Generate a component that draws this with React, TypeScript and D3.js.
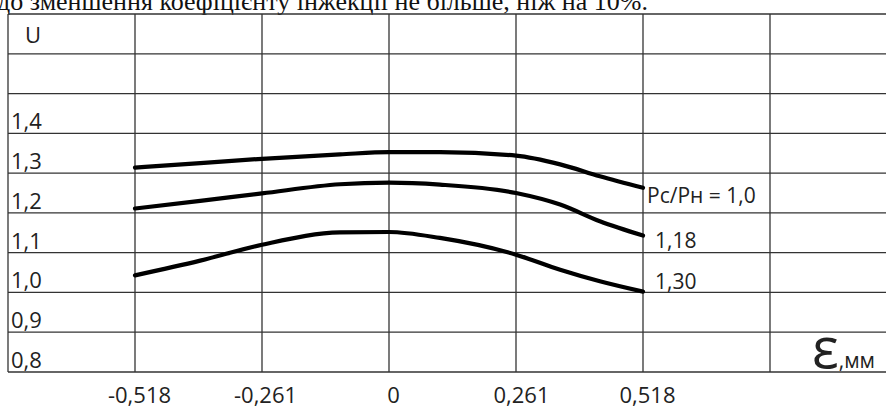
import React, { useEffect, useRef } from "react";
import * as d3 from "d3";

// eccentricity, mm
const eps = [-0.518, -0.385, -0.259, -0.1, 0, 0.104, 0.259, 0.349, 0.43, 0.518];
// injection coefficient U for each pressure ratio
const u10 = [1.314, 1.325, 1.336, 1.347, 1.353, 1.353, 1.344, 1.322, 1.292, 1.263];
const u118 = [1.211, 1.23, 1.249, 1.272, 1.276, 1.271, 1.25, 1.221, 1.179, 1.143];
const u130 = [1.043, 1.08, 1.12, 1.151, 1.152, 1.137, 1.095, 1.057, 1.028, 1.002];

const seriesNames = ["Рс/Рн = 1,0", "1,18", "1,30"];
const yTicks = [0.8, 0.9, 1.0, 1.1, 1.2, 1.3, 1.4];
const yTickLabels = ["0,8", "0,9", "1,0", "1,1", "1,2", "1,3", "1,4"];
const xTicks = [-0.518, -0.261, 0, 0.261, 0.518];
const xTickLabels = ["-0,518", "-0,261", "0", "0,261", "0,518"];
const topLine = "до зменшення коефіцієнту інжекції не більше, ніж на 10%.";

export default function App() {
  const svgRef = useRef<SVGSVGElement>(null);

  useEffect(() => {
    const width = 886;
    const height = 410;
    const svg = d3.select(svgRef.current);
    svg.selectAll("*").remove();
    svg.attr("width", width).attr("height", height);

    const x = d3.scaleLinear().domain([-0.518, 0.518]).range([135, 643]);
    const y = d3.scaleLinear().domain([0.8, 1.7]).range([372, 14]);
    const font = "'Open Sans', sans-serif";

    // paragraph text above the figure (cut by the crop)
    svg.append("text")
      .attr("x", -3)
      .attr("y", 10)
      .style("font-family", "'Liberation Serif', serif")
      .style("font-size", "26px")
      .attr("fill", "#111")
      .text(topLine);

    // table grid
    const grid = svg.append("g").attr("stroke", "#333").attr("stroke-width", 1.3);
    const step = 0.259;
    const xLines = d3.range(-3, 4).map(i => i * step);
    grid.selectAll(".vl")
      .data(xLines)
      .enter()
      .append("line")
      .attr("x1", d => x(d))
      .attr("x2", d => x(d))
      .attr("y1", y(1.7))
      .attr("y2", y(0.8));
    grid.selectAll(".hl")
      .data(d3.range(0, 10).map(i => 0.8 + i * 0.1))
      .enter()
      .append("line")
      .attr("x1", x(-3 * step))
      .attr("x2", width)
      .attr("y1", d => y(d))
      .attr("y2", d => y(d));

    // y labels inside the first column
    svg.append("g")
      .selectAll("text")
      .data(yTicks)
      .enter()
      .append("text")
      .attr("x", 11)
      .attr("y", d => y(d) - 4)
      .style("font-family", font)
      .style("font-size", "22px")
      .attr("fill", "#222")
      .text((d, i) => yTickLabels[i]);

    svg.append("text")
      .attr("x", 25)
      .attr("y", y(1.6) - 11)
      .style("font-family", font)
      .style("font-size", "22px")
      .attr("fill", "#222")
      .text("U");

    // x axis labels
    const xAxis = svg.append("g")
      .attr("transform", `translate(4, 403)`)
      .call(d3.axisBottom(x).tickValues(xTicks).tickSize(0)
        .tickFormat((d, i) => xTickLabels[i]));
    xAxis.select(".domain").remove();
    xAxis.selectAll("text")
      .attr("y", 0)
      .attr("dy", 0)
      .style("font-family", font)
      .style("font-size", "22px")
      .attr("fill", "#222");

    // curves
    const series = [u10, u118, u130];
    const labelDy = [15, 12, -3];
    const labelDx = [4, 12, 12];
    const line = d3.line<number>()
      .x((_, i) => x(eps[i]))
      .y(d => y(d))
      .curve(d3.curveMonotoneX);

    series.forEach((vals, k) => {
      svg.append("path")
        .attr("d", line(vals))
        .attr("fill", "none")
        .attr("stroke", "#000")
        .attr("stroke-width", 4.2)
        .attr("stroke-linecap", "round");
      svg.append("text")
        .attr("x", x(eps[eps.length - 1]) + labelDx[k])
        .attr("y", y(vals[vals.length - 1]) + labelDy[k])
        .style("font-family", font)
        .style("font-size", "21px")
        .attr("fill", "#222")
        .text(seriesNames[k]);
    });

    // axis name
    const axisName = svg.append("text")
      .attr("x", 812)
      .attr("y", 368)
      .style("font-family", font)
      .attr("fill", "#222");
    axisName.append("tspan").style("font-size", "56px").text("ε");
    axisName.append("tspan").style("font-size", "21px").text(",мм");
  }, []);

  return (
    <svg ref={svgRef} style={{ position: "absolute", left: 0, top: 0, background: "#fff" }}></svg>
  );
}
